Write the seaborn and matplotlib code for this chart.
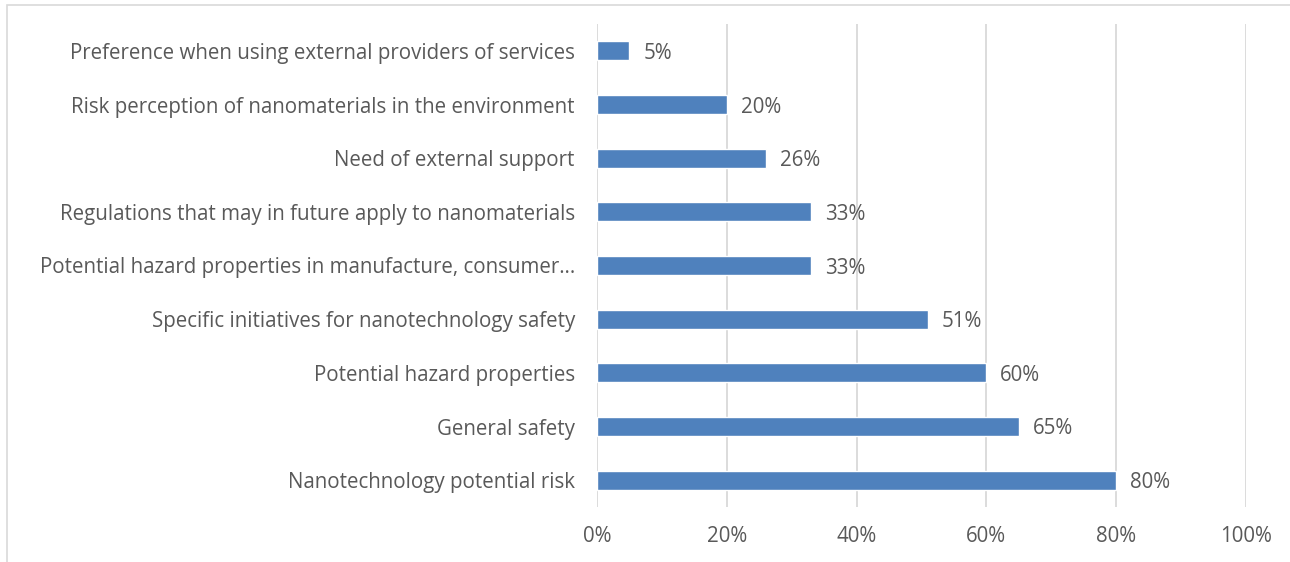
import matplotlib
matplotlib.use("Agg")
import matplotlib.pyplot as plt
import matplotlib.patches as mpatches
import seaborn as sns
import pandas as pd

categories = [
    "Preference when using external providers of services",
    "Risk perception of nanomaterials in the environment",
    "Need of external support",
    "Regulations that may in future apply to nanomaterials",
    "Potential hazard properties in manufacture, consumer\u2026",
    "Specific initiatives for nanotechnology safety",
    "Potential hazard properties",
    "General safety",
    "Nanotechnology potential risk",
]
values = [5, 20, 26, 33, 33, 51, 60, 65, 80]
x_ticks = [0, 20, 40, 60, 80, 100]
x_tick_labels = ["0%", "20%", "40%", "60%", "80%", "100%"]

BAR = "#4F81BD"
TEXT = "#595959"
GRID = "#D9D9D9"
FS = 14.8

sns.set_theme(style="white")
plt.rcParams["font.family"] = ["Open Sans", "DejaVu Sans"]

df = pd.DataFrame({"topic": categories, "share": values})

fig = plt.figure(figsize=(12.9, 5.62), dpi=100)
ax = fig.add_axes([597 / 1290, 1 - 507 / 562, (1246 - 597) / 1290, (507 - 24) / 562])

sns.barplot(data=df, y="topic", x="share", orient="h", color=BAR,
            saturation=1, width=0.35, ax=ax, zorder=3)

ax.set_xlim(0, 100)
ax.set_xticks(x_ticks)
ax.set_xticklabels(x_tick_labels)
ax.set_xlabel("")
ax.set_ylabel("")
ax.grid(axis="x", color=GRID, linewidth=1.3, zorder=0)
ax.grid(axis="y", visible=False)
for s in ax.spines.values():
    s.set_visible(False)
ax.tick_params(axis="y", length=0, pad=16, labelsize=FS, labelcolor=TEXT)
ax.tick_params(axis="x", length=0, pad=14, labelsize=FS, labelcolor=TEXT)

for c in ax.containers:
    texts = ax.bar_label(c, labels=[f"{v}%" for v in values], padding=10,
                         fontsize=FS, color=TEXT)
    for t in texts:
        t.set_verticalalignment("center_baseline")

# outer chart frame
frame = mpatches.Rectangle((7 / 1290, -0.1), 1.2, 1 - 5 / 562 + 0.1,
                           transform=fig.transFigure, fill=False,
                           edgecolor="#D9D9D9", linewidth=1.2)
fig.patches.append(frame)

fig.savefig("out.png", dpi=100)
